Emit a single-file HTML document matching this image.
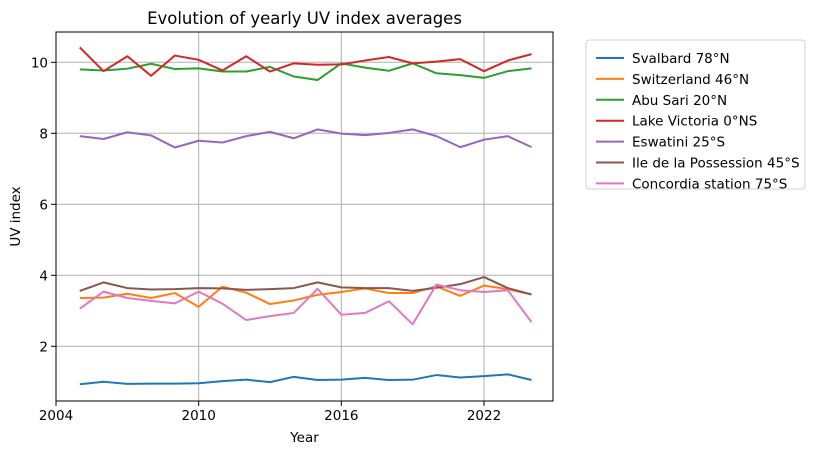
<!DOCTYPE html>
<html><head><meta charset="utf-8"><style>
body{margin:0;background:#fff;font-family:"Liberation Sans","DejaVu Sans",sans-serif}
svg text{font-family:"DejaVu Sans","Liberation Sans",sans-serif}
</style></head><body>
<svg id="c" width="816" height="455" xmlns="http://www.w3.org/2000/svg"></svg>
<script>
const years=[2005,2006,2007,2008,2009,2010,2011,2012,2013,2014,2015,2016,2017,2018,2019,2020,2021,2022,2023,2024];
const svalbard=[0.93,1.00,0.94,0.95,0.95,0.96,1.02,1.06,0.99,1.14,1.05,1.06,1.11,1.05,1.06,1.19,1.12,1.16,1.21,1.05];
const switzerland=[3.36,3.37,3.48,3.36,3.50,3.11,3.68,3.51,3.19,3.29,3.45,3.53,3.63,3.50,3.50,3.69,3.42,3.71,3.61,3.46];
const abuSari=[9.80,9.77,9.82,9.96,9.81,9.83,9.74,9.74,9.87,9.60,9.50,9.97,9.85,9.76,9.97,9.69,9.64,9.56,9.75,9.83];
const lakeVictoria=[10.42,9.75,10.17,9.62,10.19,10.07,9.77,10.17,9.74,9.97,9.93,9.94,10.05,10.15,9.97,10.02,10.09,9.75,10.05,10.23];
const eswatini=[7.92,7.84,8.03,7.94,7.60,7.79,7.74,7.92,8.04,7.86,8.11,7.99,7.95,8.01,8.11,7.92,7.61,7.82,7.92,7.61];
const possession=[3.56,3.80,3.64,3.60,3.61,3.64,3.63,3.59,3.61,3.64,3.80,3.66,3.64,3.64,3.56,3.65,3.75,3.95,3.64,3.46];
const concordia=[3.06,3.54,3.36,3.28,3.21,3.54,3.20,2.74,2.85,2.94,3.62,2.89,2.94,3.27,2.62,3.74,3.58,3.53,3.58,2.68];
const seriesNames=["Svalbard 78°N","Switzerland 46°N","Abu Sari 20°N","Lake Victoria 0°NS","Eswatini 25°S","Ile de la Possession 45°S","Concordia station 75°S"];
const xTicks=[2004,2010,2016,2022];
const yTicks=[2,4,6,8,10];

const series=[svalbard,switzerland,abuSari,lakeVictoria,eswatini,possession,concordia];
const colors=["#1f77b4","#ff7f0e","#2ca02c","#d62728","#9467bd","#8c564b","#e377c2"];
const L=56,R=553,T=32,B=401;
const x=v=>L+(v-2004)*(484-56)/18;
const y=v=>346.3-(v-2)*35.5;
const svg=document.getElementById('c');
const NS="http://www.w3.org/2000/svg";
function mk(t,a,p){const e=document.createElementNS(NS,t);for(const k in a)e.setAttribute(k,a[k]);(p||svg).appendChild(e);return e;}
xTicks.forEach(t=>{
 const g=mk('line',{x1:x(t),x2:x(t),y1:T,y2:B,stroke:'#b0b0b0','stroke-width':1});
 
 
 mk('line',{x1:x(t),x2:x(t),y1:B,y2:B+5,stroke:'#000','stroke-width':1});
 const tx=mk('text',{x:x(t),y:B+19,'text-anchor':'middle','font-size':13.5});tx.textContent=t;
 
 
});
yTicks.forEach(t=>{
 const g=mk('line',{x1:L,x2:R,y1:y(t),y2:y(t),stroke:'#b0b0b0','stroke-width':1});
 
 
 mk('line',{x1:L-5,x2:L,y1:y(t),y2:y(t),stroke:'#000','stroke-width':1});
 const tx=mk('text',{x:L-8,y:y(t)+5,'text-anchor':'end','font-size':13.5});tx.textContent=t;
 
 
});
series.forEach((s,i)=>{
 const p=mk('polyline',{points:s.map((v,j)=>x(years[j])+','+y(v)).join(' '),fill:'none',stroke:colors[i],'stroke-width':2,'stroke-linejoin':'round'});
 
 
});
const fr=mk('rect',{x:L,y:T,width:R-L,height:B-T,fill:'none',stroke:'#000','stroke-width':1});


const title=mk('text',{x:(L+R)/2,y:24,'text-anchor':'middle','font-size':16.5});title.textContent='Evolution of yearly UV index averages';


const xl=mk('text',{x:(L+R)/2,y:442,'text-anchor':'middle','font-size':13.5});xl.textContent='Year';


const yl=mk('text',{x:0,y:0,'text-anchor':'middle','font-size':13.5,transform:'translate(20,'+((T+B)/2)+') rotate(-90)'});yl.textContent='UV index';


const lg=mk('rect',{x:586,y:40,width:219,height:149,rx:3,fill:'#fff',stroke:'#d0d0d0','stroke-width':1});


seriesNames.forEach((n,i)=>{
 const yy=58+i*20.9;
 const ln=mk('line',{x1:596,x2:624,y1:yy,y2:yy,stroke:colors[i],'stroke-width':2});
 
 
 const tx=mk('text',{x:632,y:yy+5,'font-size':13.5});tx.textContent=n;
 
 
});
</script>
</body></html>
